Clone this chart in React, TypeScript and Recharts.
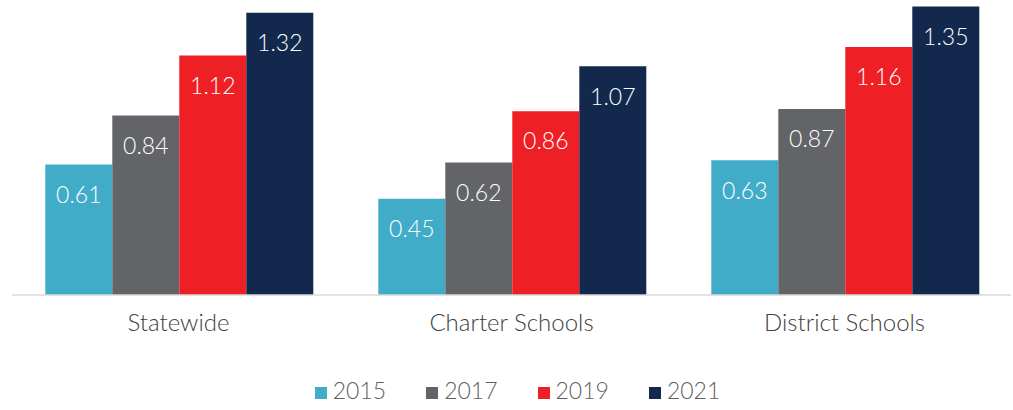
import { BarChart, Bar, XAxis, YAxis, Legend, LabelList } from 'recharts';

// ── Data ──────────────────────────────────────────────────────────────────────

const categories = ['Statewide', 'Charter Schools', 'District Schools'];
const years = ['2015', '2017', '2019', '2021'];
const values2015 = [0.61, 0.45, 0.63];
const values2017 = [0.84, 0.62, 0.87];
const values2019 = [1.12, 0.86, 1.16];
const values2021 = [1.32, 1.07, 1.35];

const colors = ['#41ACC8', '#636468', '#EE1F25', '#12294D'];
const seriesValues = [values2015, values2017, values2019, values2021];

const data = categories.map((name, i) => {
    const row: Record<string, string | number> = { name };
    years.forEach((y, s) => { row[y] = seriesValues[s][i]; });
    return row;
});

const FONT = 'Lato, "Open Sans", sans-serif';

// ── Legend ────────────────────────────────────────────────────────────────────

function CustomLegend() {
    return (
        <div style={{ display: 'flex', justifyContent: 'center', alignItems: 'center', height: 40, paddingLeft: 12 }}>
            {years.map((y, i) => (
                <div key={y} style={{ display: 'flex', alignItems: 'center', marginRight: i < years.length - 1 ? 40 : 0 }}>
                    <span style={{ width: 12, height: 12, background: colors[i], display: 'inline-block', marginRight: 6, marginTop: 5 }} />
                    <span style={{ fontFamily: FONT, fontSize: 23, fontWeight: 300, color: '#5f5f5f' }}>{y}</span>
                </div>
            ))}
        </div>
    );
}

// ── Component ─────────────────────────────────────────────────────────────────

export default function App() {
    return (
        <div style={{ position: 'absolute', left: 0, top: 0, width: 1013, height: 410, background: '#fff' }}>
            <BarChart
                width={1013}
                height={410}
                data={data}
                margin={{ top: 0, right: 2, left: 12, bottom: 0 }}
                barCategoryGap="10%"
                barGap={0}
            >
                <XAxis
                    dataKey="name"
                    axisLine={{ stroke: '#d9d9d9', strokeWidth: 1.5 }}
                    tickLine={false}
                    height={75}
                    tick={{ fill: '#404040', fontSize: 24, fontFamily: FONT, fontWeight: 300 }}
                    dy={11}
                />
                <YAxis hide domain={[0, 1.38]} />
                <Legend
                    verticalAlign="bottom"
                    height={40}
                    content={<CustomLegend />}
                />
                {years.map((y, i) => (
                    <Bar key={y} dataKey={y} fill={colors[i]} isAnimationActive={false}>
                        <LabelList
                            dataKey={y}
                            position="insideTop"
                            offset={22}
                            fill="#ffffff"
                            style={{ fontSize: 23, fontFamily: FONT, fontWeight: 300 }}
                        />
                    </Bar>
                ))}
            </BarChart>
        </div>
    );
}
